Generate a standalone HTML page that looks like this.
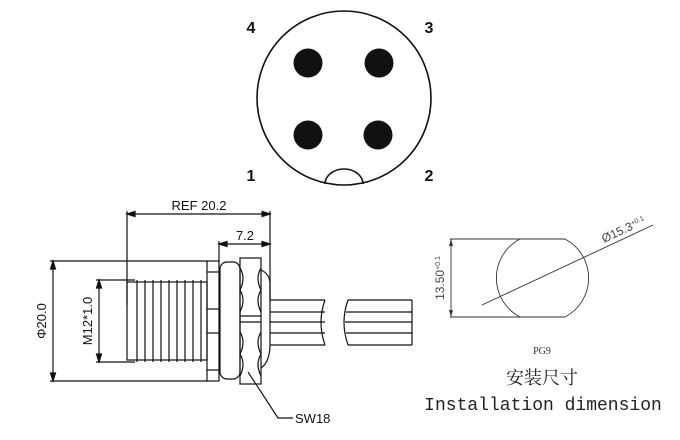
<!DOCTYPE html>
<html><head><meta charset="utf-8"><style>
html,body{margin:0;padding:0;background:#fff}
svg{display:block}
</style></head><body>
<svg width="680" height="440" viewBox="0 0 680 440" xmlns="http://www.w3.org/2000/svg" font-family="Liberation Sans, sans-serif">
<rect width="680" height="440" fill="#fff"/>
<!-- Top face view -->
<circle cx="344" cy="98" r="87" fill="none" stroke="#111" stroke-width="1.6"/>
<path d="M325 184 A19 15 0 0 1 363 184" fill="none" stroke="#111" stroke-width="1.5"/>
<circle cx="308" cy="63" r="14.5" fill="#111"/>
<circle cx="379" cy="63" r="14.5" fill="#111"/>
<circle cx="308" cy="135" r="14.5" fill="#111"/>
<circle cx="378" cy="135" r="14.5" fill="#111"/>
<g font-size="16" font-weight="bold" fill="#111" text-anchor="middle">
<text x="251" y="33">4</text><text x="429" y="33">3</text>
<text x="251" y="181">1</text><text x="429" y="181">2</text>
</g>
<!-- Side view -->
<g stroke="#111" fill="none" stroke-width="1.2">
<!-- REF dimension -->
<line x1="127" y1="211" x2="127" y2="305"/>
<line x1="270" y1="211" x2="270" y2="300"/>
<line x1="127" y1="214" x2="270" y2="214"/>
<path d="M127 214 l8 -2.5 v5z M270 214 l-8 -2.5 v5z" fill="#111"/>
<!-- 7.2 -->
<line x1="219" y1="241" x2="219" y2="262"/>
<line x1="219" y1="244" x2="270" y2="244"/>
<path d="M219 244 l8 -2.5 v5z M270 244 l-8 -2.5 v5z" fill="#111"/>
<!-- phi20 dim -->
<line x1="50" y1="261" x2="207" y2="261"/>
<line x1="50" y1="381" x2="207" y2="381"/>
<line x1="53" y1="261" x2="53" y2="381"/>
<path d="M53 261 l-2.5 8 h5z M53 381 l-2.5 -8 h5z" fill="#111"/>
<!-- M12 dim -->
<line x1="96" y1="280" x2="135" y2="280"/>
<line x1="96" y1="362" x2="135" y2="362"/>
<line x1="99" y1="280" x2="99" y2="362"/>
<path d="M99 280 l-2.5 8 h5z M99 362 l-2.5 -8 h5z" fill="#111"/>
<!-- thread -->
<rect x="127" y="282" width="80" height="78"/>
<line x1="137" y1="280" x2="137" y2="362"/>
<line x1="145" y1="280" x2="145" y2="362"/>
<line x1="153" y1="280" x2="153" y2="362"/>
<line x1="161" y1="280" x2="161" y2="362"/>
<line x1="169" y1="280" x2="169" y2="362"/>
<line x1="177" y1="280" x2="177" y2="362"/>
<line x1="185" y1="280" x2="185" y2="362"/>
<line x1="193" y1="280" x2="193" y2="362"/>
<line x1="201" y1="280" x2="201" y2="362"/>
<!-- flange -->
<rect x="207" y="261" width="12" height="120"/>
<line x1="207" y1="272" x2="219" y2="272"/>
<line x1="207" y1="309" x2="219" y2="309"/>
<line x1="207" y1="333" x2="219" y2="333"/>
<line x1="207" y1="370" x2="219" y2="370"/>
<!-- washer -->
<rect x="220" y="262" width="20" height="117" rx="7"/>
<!-- nut -->
<rect x="240" y="258" width="21" height="126"/>
<line x1="240" y1="316" x2="261" y2="316"/>
<line x1="240" y1="322" x2="261" y2="322"/>
<path d="M240 268 q6 10 0 22 q6 10 0 22 M261 268 q-6 10 0 22 q-6 10 0 22 M240 332 q6 10 0 22 q6 10 0 22 M261 332 q-6 10 0 22 q-6 10 0 22"/>
<!-- back washer -->
<path d="M261 270 q9 4 9 14 v60 q0 18 -9 24"/>
<!-- cables -->
<line x1="270" y1="300" x2="325" y2="300"/>
<line x1="270" y1="312" x2="325" y2="312"/>
<line x1="270" y1="322" x2="325" y2="322"/>
<line x1="270" y1="333" x2="325" y2="333"/>
<line x1="270" y1="345" x2="325" y2="345"/>
<path d="M325 300 q-8 22 0 45"/>
<path d="M348 300 q-8 22 0 45"/>
<line x1="348" y1="300" x2="412" y2="300"/>
<line x1="346" y1="312" x2="412" y2="312"/>
<line x1="345" y1="322" x2="412" y2="322"/>
<line x1="346" y1="333" x2="412" y2="333"/>
<line x1="348" y1="345" x2="412" y2="345"/>
<line x1="412" y1="300" x2="412" y2="345"/>
<!-- SW18 leader -->
<polyline points="248,372 278,418 293,418"/>
</g>
<g fill="#111" font-size="13">
<text x="199" y="210" text-anchor="middle">REF 20.2</text>
<text x="245" y="240" text-anchor="middle">7.2</text>
<text x="295" y="423">SW18</text>
<text transform="translate(46 321) rotate(-90)" text-anchor="middle">Φ20.0</text>
<text transform="translate(92 321) rotate(-90)" text-anchor="middle">M12*1.0</text>
</g>
<!-- Installation dimension -->
<g stroke="#333" fill="none" stroke-width="0.9">
<line x1="450" y1="239" x2="520" y2="239"/>
<line x1="450" y1="317" x2="520" y2="317"/>
<line x1="520" y1="239" x2="565" y2="239"/>
<line x1="520" y1="317" x2="565" y2="317"/>
<path d="M520 239 A44 44 0 0 0 520 317"/>
<path d="M565 239 A44 44 0 0 1 565 317"/>
<line x1="451" y1="239" x2="451" y2="317"/>
<line x1="482" y1="305" x2="653" y2="225"/>
</g>
<path d="M451 239 l-2 7 h4z M451 317 l-2 -7 h4z" fill="#333"/>
<g fill="#444">
<text transform="translate(444 278) rotate(-90)" text-anchor="middle" font-size="12">13.50<tspan font-size="7" dy="-4">+0.1</tspan></text>
<text transform="translate(604 243) rotate(-25)" font-size="12">Ø15.3<tspan font-size="7" dy="-4">+0.1</tspan></text>
</g>
<text x="542" y="354" text-anchor="middle" font-family="Liberation Serif, serif" font-size="10" fill="#333">PG9</text>
<text x="542" y="384" text-anchor="middle" font-family="Liberation Serif, 'Noto Serif CJK SC', serif" font-size="18" fill="#222">安装尺寸</text>
<text x="543" y="410" text-anchor="middle" font-family="Liberation Mono, monospace" font-size="18" fill="#222">Installation dimension</text>
</svg>
</body></html>
